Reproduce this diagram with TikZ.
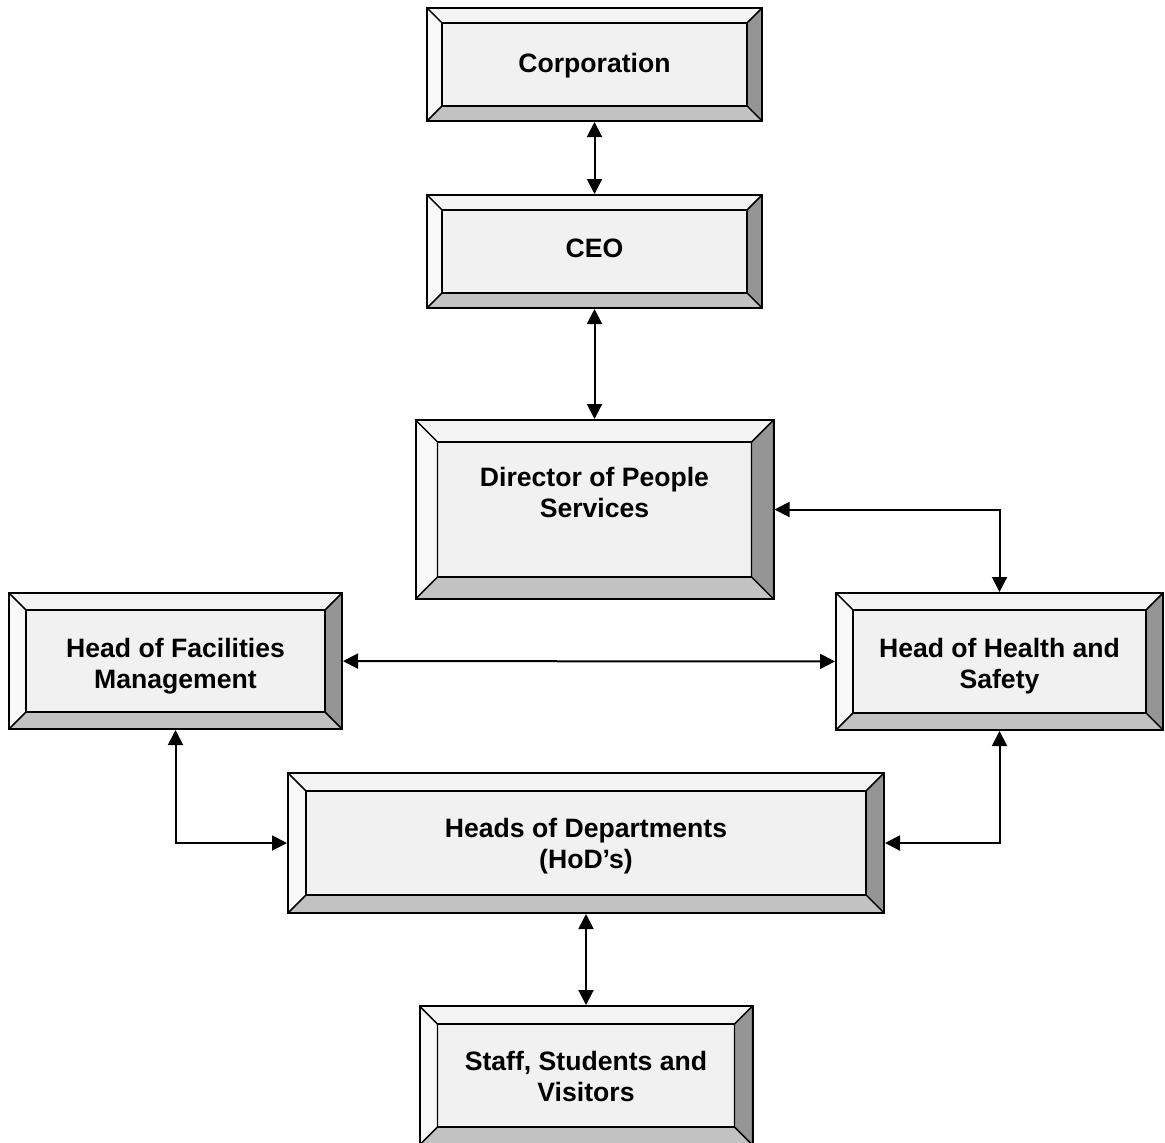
\documentclass[tikz,border=0pt]{standalone}
\usepackage{fontspec}
\setmainfont{Liberation Sans}
\usepackage{xcolor}
\usepackage{tikz}
\usetikzlibrary{arrows.meta,positioning,calc}
\definecolor{facefill}{HTML}{F1F1F1}
\definecolor{bevtop}{HTML}{F4F4F4}
\definecolor{bevleft}{HTML}{F9F9F9}
\definecolor{bevright}{HTML}{959595}
\definecolor{bevbottom}{HTML}{C2C2C2}
\tikzset{
  bevel depth/.store in=\bevdepth, bevel depth=8.5pt,
  textdrop/.style={text height=#1, text depth=0pt},
  bevelbox/.style={draw=black, line width=1pt, fill=facefill, align=center, inner sep=0pt,
    font=\bfseries\fontsize{13.3}{15.5}\selectfont,
    path picture={
      \coordinate (bnw) at (path picture bounding box.north west);
      \coordinate (bne) at (path picture bounding box.north east);
      \coordinate (bsw) at (path picture bounding box.south west);
      \coordinate (bse) at (path picture bounding box.south east);
      \coordinate (inw) at ([shift={(\bevdepth,-\bevdepth)}]bnw);
      \coordinate (ine) at ([shift={(-\bevdepth,-\bevdepth)}]bne);
      \coordinate (isw) at ([shift={(\bevdepth,\bevdepth)}]bsw);
      \coordinate (ise) at ([shift={(-\bevdepth,\bevdepth)}]bse);
      \filldraw[fill=bevtop, line width=0.7pt] (bnw) -- (bne) -- (ine) -- (inw) -- cycle;
      \filldraw[fill=bevleft, line width=0.7pt] (bnw) -- (inw) -- (isw) -- (bsw) -- cycle;
      \filldraw[fill=bevright, line width=0.7pt] (bne) -- (ine) -- (ise) -- (bse) -- cycle;
      \filldraw[fill=bevbottom, line width=0.7pt] (bsw) -- (isw) -- (ise) -- (bse) -- cycle;
      \draw[line width=0.8pt] (inw) rectangle (ise);
    }},
  arr/.style={{Triangle[length=7.5pt,width=7.5pt]}-{Triangle[length=7.5pt,width=7.5pt]}, line width=1pt, draw=black}
}
\begin{document}
\begin{tikzpicture}[x=0.5pt, y=-0.5pt]
  \useasboundingbox (0,0) rectangle (1165,1142);

  \node[bevelbox, bevel depth=7.5pt, minimum width=167.5pt, minimum height=56.5pt, textdrop=7.5pt] (corp) at (594.5,64.5) {Corporation};
  \node[bevelbox, bevel depth=7.5pt, minimum width=167.5pt, minimum height=56.5pt, textdrop=5.5pt, below=36pt of corp] (ceo) {CEO};
  \node[bevelbox, bevel depth=11pt, minimum width=179pt, minimum height=89.5pt, textdrop=8pt, below=55pt of ceo] (dps) {Director of People\\Services};

  \node[bevelbox, minimum width=166.5pt, minimum height=68pt, textdrop=27pt] (hfm) at (175.5,661) {Head of Facilities\\Management};
  \node[bevelbox, minimum width=163.5pt, minimum height=68.5pt, textdrop=26.5pt] (hhs) at (999.5,661.5) {Head of Health and\\Safety};

  \node[bevelbox, bevel depth=9pt, minimum width=298pt, minimum height=70pt, textdrop=25pt] (hod) at (586,843) {Heads of Departments\\(HoD’s)};
  \node[bevelbox, bevel depth=9pt, minimum width=166.5pt, minimum height=69.5pt, textdrop=25.5pt, below=45.5pt of hod] (ssv) {Staff, Students and\\Visitors};

  \draw[arr] (corp) -- (ceo);
  \draw[arr] (ceo) -- (dps);
  \draw[arr] (dps.east) -| (hhs.north);
  \draw[arr] (hfm) -- (hhs);
  \draw[arr] (hfm.south) |- (hod.west);
  \draw[arr] (hhs.south) |- (hod.east);
  \draw[arr] (hod) -- (ssv);
\end{tikzpicture}
\end{document}
